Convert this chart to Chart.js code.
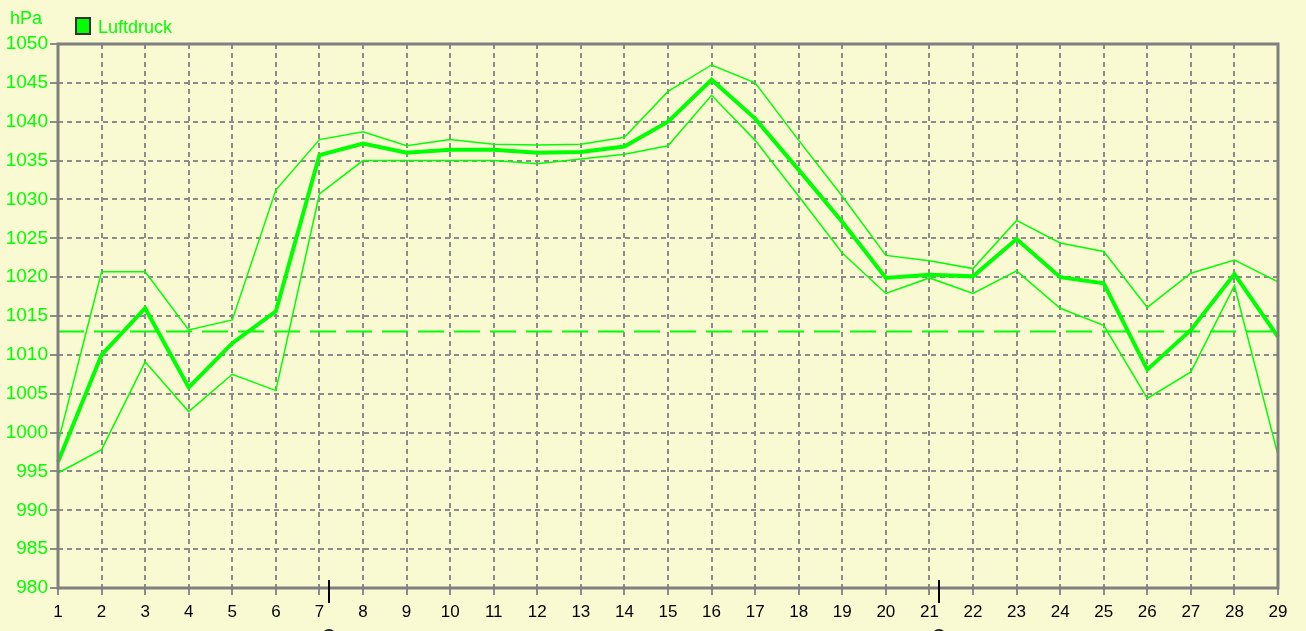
<!DOCTYPE html>
<html>
<head>
<meta charset="utf-8">
<script src="https://cdn.jsdelivr.net/npm/chart.js@4"></script>
<style>
  html, body { margin: 0; padding: 0; background: #FAFAD2; }
  #wrap { position: relative; width: 1306px; height: 631px; }
</style>
</head>
<body>
<div id="wrap"><canvas id="chart" width="1306" height="631"></canvas></div>
<script>
// days of the month
const days = ["1","2","3","4","5","6","7","8","9","10","11","12","13","14","15",
              "16","17","18","19","20","21","22","23","24","25","26","27","28","29"];

// daily mean pressure (thick line)
const meanPressure = [996.2, 1010.0, 1016.0, 1005.8, 1011.5, 1015.6, 1035.7, 1037.2, 1036.0, 1036.4,
                      1036.4, 1036.0, 1036.1, 1036.8, 1040.0, 1045.4, 1040.4, 1033.8, 1027.1, 1019.9,
                      1020.3, 1020.1, 1024.9, 1020.0, 1019.2, 1008.1, 1013.2, 1020.4, 1012.3];

// daily max / min (thin lines)
const maxPressure = [998.7, 1020.7, 1020.7, 1013.2, 1014.5, 1031.2, 1037.7, 1038.7, 1036.9, 1037.7,
                     1037.1, 1037.0, 1037.1, 1038.0, 1043.9, 1047.3, 1045.0, 1037.6, 1030.4, 1022.8,
                     1022.1, 1021.1, 1027.3, 1024.4, 1023.3, 1016.1, 1020.5, 1022.2, 1019.4];
const minPressure = [994.8, 997.8, 1009.1, 1002.7, 1007.5, 1005.4, 1030.7, 1035.0, 1035.0, 1035.0,
                     1035.0, 1034.6, 1035.2, 1035.8, 1036.9, 1043.4, 1037.6, 1030.4, 1023.1, 1017.9,
                     1019.9, 1017.9, 1020.8, 1016.0, 1013.8, 1004.4, 1007.8, 1018.9, 997.1];

// reference line (standard pressure)
const refPressure = 1013;

// y axis range
const yMin = 980, yMax = 1050, yStep = 5;

// little black markers on the x axis
const markerDays = [7.22, 21.22];

const GREEN = "#00FF00";
const GRID = "#8C8C8C";
const FONT = "'Liberation Sans', Arial, sans-serif";

// frame + header text + axis markers
const decoPlugin = {
    id: "deco",
    afterDraw(chart) {
        const ctx = chart.ctx;
        const a = chart.chartArea;
        ctx.save();
        // frame
        ctx.strokeStyle = "#7F7F7F";
        ctx.lineWidth = 3;
        ctx.strokeRect(a.left, a.top, a.right - a.left, a.bottom - a.top);

        // unit + legend
        ctx.font = "18px " + FONT;
        ctx.fillStyle = GREEN;
        ctx.textBaseline = "alphabetic";
        ctx.fillText("hPa", 10, 24);
        ctx.fillText("Luftdruck", 98, 33);
        ctx.fillStyle = "#333";
        ctx.fillRect(75, 17, 16, 18);
        ctx.fillStyle = GREEN;
        ctx.fillRect(77, 19, 12, 14);

        // axis markers
        const xs = chart.scales.x;
        ctx.strokeStyle = "#000";
        ctx.lineWidth = 2;
        markerDays.forEach(d => {
            const px = Math.round(xs.getPixelForValue(d - 1));
            ctx.beginPath();
            ctx.moveTo(px, a.bottom - 8);
            ctx.lineTo(px, a.bottom + 15);
            ctx.stroke();
            ctx.beginPath();
            ctx.fillStyle = "#222";
            ctx.arc(px, 636, 7, 0, Math.PI * 2);
            ctx.fill();
        });
        ctx.restore();
    }
};

new Chart(document.getElementById("chart"), {
    type: "line",
    data: {
        labels: days,
        datasets: [
            {
                label: "Luftdruck",
                data: meanPressure,
                borderColor: GREEN,
                borderWidth: 4,
                pointRadius: 0,
                tension: 0
            },
            {
                label: "Max",
                data: maxPressure,
                borderColor: GREEN,
                borderWidth: 1.5,
                pointRadius: 0,
                tension: 0
            },
            {
                label: "Min",
                data: minPressure,
                borderColor: GREEN,
                borderWidth: 1.5,
                pointRadius: 0,
                tension: 0
            },
            {
                label: "Normal",
                data: days.map(() => refPressure),
                borderColor: GREEN,
                borderWidth: 2,
                borderDash: [26, 10],
                pointRadius: 0
            }
        ]
    },
    options: {
        responsive: false,
        animation: false,
        layout: { padding: { top: 44, right: 28, left: 0, bottom: 0 } },
        plugins: {
            legend: { display: false },
            tooltip: { enabled: false }
        },
        scales: {
            x: {
                offset: false,
                grid: {
                    offset: false,
                    color: GRID,
                    lineWidth: 2,
                    tickLength: 7,
                    tickColor: GRID,
                    tickBorderDash: []
                },
                border: { display: false, dash: [5, 4] },
                ticks: {
                    color: "#000",
                    autoSkip: false,
                    maxRotation: 0,
                    padding: 7,
                    font: { family: FONT, size: 17 }
                },
                afterFit: s => { s.height = 43; }
            },
            y: {
                min: yMin,
                max: yMax,
                grid: {
                    color: GRID,
                    lineWidth: 2,
                    tickLength: 8,
                    tickColor: GRID,
                    tickBorderDash: []
                },
                border: { display: false, dash: [5, 4] },
                ticks: {
                    stepSize: yStep,
                    color: GREEN,
                    padding: 2,
                    font: { family: FONT, size: 19 },
                    callback: v => String(v)
                },
                afterFit: s => { s.width = 58; }
            }
        }
    },
    plugins: [decoPlugin]
});
</script>
</body>
</html>
